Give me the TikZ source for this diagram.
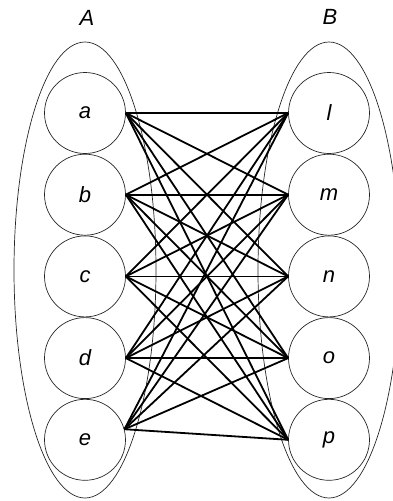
\documentclass[tikz,border=0pt]{standalone}
\usepackage{fontspec}
\setmainfont{Liberation Sans}
\usetikzlibrary{positioning}

\begin{document}
\begin{tikzpicture}[x=1pt, y=-1pt, font=\fontsize{22}{26}\selectfont\itshape,
        vert/.style={circle, draw=black!85, line width=0.7pt, minimum size=81pt, inner sep=0pt},
        part/.style={draw=black!85, line width=0.7pt},
        edge/.style={line width=1.8pt, black}
    ]
        \useasboundingbox (0,0) rectangle (393,501);
        \clip (0,0) rectangle (393,501);
        % the two parts
        \draw[part] (85,270) ellipse [x radius=71, y radius=228];
        \draw[part] (329,270) ellipse [x radius=71, y radius=228];
        \node (labA) at (87,18) {A};
        \node (labB) at (330,17) {B};
        % left side
        \node[vert] (a) at (85,113) {a};
        \node[vert, below=0pt of a] (b) {b};
        \node[vert, below=0pt of b] (c) {c};
        \node[vert, below=0pt of c] (d) {d};
        \node[vert, below=0pt of d] (e) {e};
        % right side
        \node[vert] (l) at (329,113) {l};
        \node[vert, below=0pt of l] (m) {m};
        \node[vert, below=0pt of m] (n) {n};
        \node[vert, below=0pt of n] (o) {o};
        \node[vert, below=0pt of o] (p) {p};
        % every pair
        \foreach \u/\s in {a/east, b/east, c/east, d/east, e/15}
            \foreach \v in {l, m, n, o, p}
                \draw[edge] (\u.\s) -- (\v.west);
    \end{tikzpicture}
\end{document}
